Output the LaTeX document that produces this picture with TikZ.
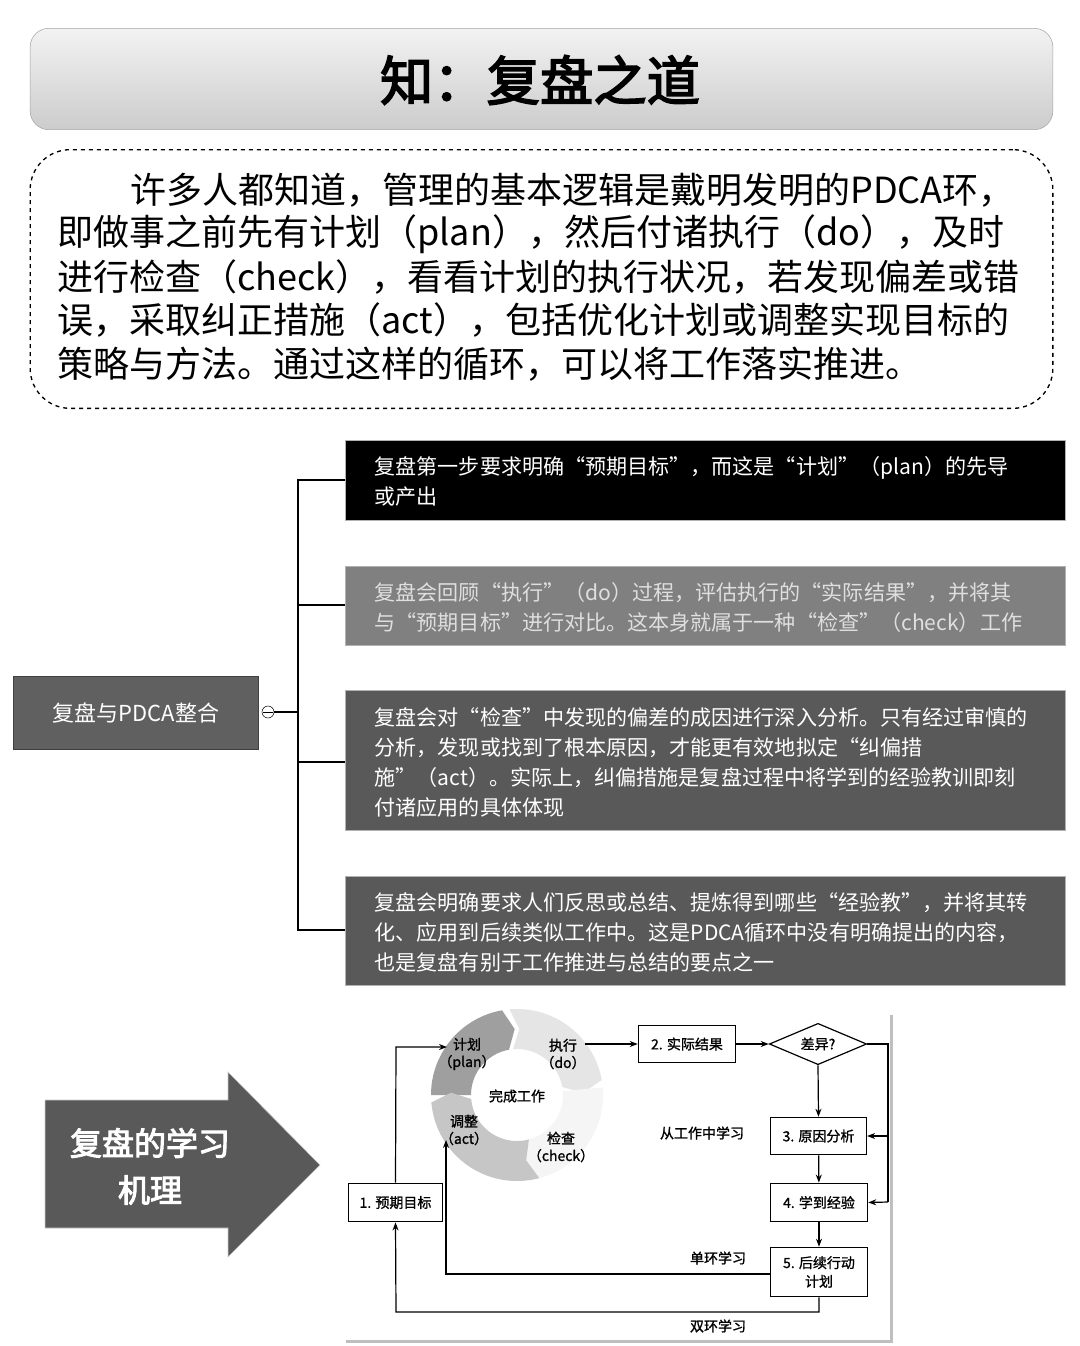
\documentclass[tikz,border=0pt]{standalone}
\usepackage{fontspec}
\setmainfont{Noto Sans CJK SC}
\newfontfamily\cjkb[FakeBold=3]{Noto Sans CJK SC}
\newfontfamily\cjkm[FakeBold=1.2]{Noto Sans CJK SC}
\usetikzlibrary{shapes.geometric,arrows.meta,shadows,calc}
\begin{document}
\begin{tikzpicture}[x=0.75pt,y=-0.75pt,
  sbox/.style={draw=gray!60,line width=0.6pt,minimum width=540pt,anchor=north west,inner sep=0pt},
  btext/.style={anchor=north west,align=left,font=\fontsize{15.8}{22.5}\selectfont,text width=530pt},
  dbox/.style={draw,line width=0.9pt,fill=white,font=\cjkm\fontsize{10.5}{14}\selectfont,inner sep=2pt},
  arr/.style={-{Stealth[length=6pt]},line width=0.9pt},
  lab/.style={font=\cjkm\fontsize{10.5}{13}\selectfont,align=center}]
\useasboundingbox (0,0) rectangle (1080,1346);
\fill[white] (0,0) rectangle (1080,1346);
% title
\node[draw=gray!70,rounded corners=14pt,top color=gray!10,bottom color=gray!40,minimum width=767pt,minimum height=76pt] (title) at (541.5,79) {};
\node[font=\cjkb\fontsize{40}{40}\selectfont] (tt) at (540,80) {知：复盘之道};
% dashed text box
\node[draw,dashed,line width=1pt,rounded corners=30pt,minimum width=767pt,minimum height=194pt] (para) at (541.5,279) {};
\begin{scope}[every node/.style={anchor=west,font=\fontsize{27}{27}\selectfont,inner sep=0pt}]
\node (l1) at (130,190) {许多人都知道，管理的基本逻辑是戴明发明的PDCA环，};
\node (l2) at (57,234) {即做事之前先有计划（plan），然后付诸执行（do），及时};
\node (l3) at (57,277) {进行检查（check），看看计划的执行状况，若发现偏差或错};
\node (l4) at (57,320) {误，采取纠正措施（act），包括优化计划或调整实现目标的};
\node (l5) at (57,364) {策略与方法。通过这样的循环，可以将工作落实推进。};
\end{scope}
% mind map
\node[fill=gray!75!black,draw=gray!50!black,minimum width=184pt,minimum height=55pt,text=white,font=\fontsize{16.5}{16}\selectfont] (root) at (136,713) {复盘与PDCA整合};
\node[draw,circle,inner sep=0pt,minimum size=9pt,fill=white] (c) at (268,712) {};
\draw (263,712) -- (273,712);
\draw[line width=0.8pt] (c) -- (298,712);
\draw[line width=0.8pt] (345,480) -- (298,480) -- (298,930) -- (345,930);
\draw[line width=0.8pt] (298,605) -- (345,605);
\draw[line width=0.8pt] (298,762) -- (345,762);
\node[sbox,fill=black,minimum height=60pt] (b1) at (345,440) {};
\node[btext,text=white] (t1) at (370,452) {复盘第一步要求明确“预期目标”，而这是“计划”（plan）的先导\\或产出};
\node[sbox,fill=gray,minimum height=59pt] (b2) at (345,566) {};
\node[btext,text=gray!25] (t2) at (370,578) {复盘会回顾“执行”（do）过程，评估执行的“实际结果”，并将其\\与“预期目标”进行对比。这本身就属于一种“检查”（check）工作};
\node[sbox,fill=gray!70!black,minimum height=105pt] (b3) at (345,690) {};
\node[btext,text=white] (t3) at (370,703) {复盘会对“检查”中发现的偏差的成因进行深入分析。只有经过审慎的\\分析，发现或找到了根本原因，才能更有效地拟定“纠偏措\\施”（act）。实际上，纠偏措施是复盘过程中将学到的经验教训即刻\\付诸应用的具体体现};
\node[sbox,fill=gray!70!black,minimum height=82pt] (b4) at (345,876) {};
\node[btext,text=white] (t4) at (370,888) {复盘会明确要求人们反思或总结、提炼得到哪些“经验教”，并将其转\\化、应用到后续类似工作中。这是PDCA循环中没有明确提出的内容，\\也是复盘有别于工作推进与总结的要点之一};
% big arrow
\draw[fill=gray!70!black,draw=gray!40] (45,1100) -- (228,1100) -- (228,1072) -- (320,1165) -- (228,1257) -- (228,1228) -- (45,1228) -- cycle;
\node[text=white,font=\cjkb\fontsize{24}{24}\selectfont] (m1) at (150,1143) {复盘的学习};
\node[text=white,font=\cjkb\fontsize{24}{24}\selectfont] (m2) at (150,1190) {机理};
% diagram panel
\fill[gray!50] (346,1015) rectangle (893,1343);
\fill[white] (343,1012) rectangle (890,1340);
% ring
\begin{scope}[shift={(517,1095)},x=0.75pt,y=0.75pt]
\def\R{86}\def\r{46}
\fill[gray!75] (100:\R) arc[start angle=100,end angle=180,radius=\R] -- (180:\r) arc[start angle=180,end angle=100,radius=\r] -- (92:66) -- cycle;
\fill[gray!20] (10:\R) arc[start angle=10,end angle=95,radius=\R] -- (88:66) -- (95:\r) arc[start angle=95,end angle=10,radius=\r] -- (2:66) -- cycle;
\fill[gray!8] (-80:\R) arc[start angle=-80,end angle=5,radius=\R] -- (5:\r) arc[start angle=5,end angle=-80,radius=\r] -- (-88:66) -- cycle;
\fill[gray!45] (185:\R) arc[start angle=185,end angle=285,radius=\R] -- (278:66) -- (285:\r) arc[start angle=285,end angle=185,radius=\r] -- (178:66) -- cycle;
\end{scope}
\node[lab] (plan) at (467,1054) {计划\\（plan）};
\node[lab] (do) at (563,1054) {执行\\（do）};
\node[lab] (wc) at (517,1096) {完成工作};
\node[lab] (act) at (464,1130) {调整\\（act）};
\node[lab] (chk) at (561,1147) {检查\\（check）};
% boxes
\node[dbox,minimum width=70pt,minimum height=29pt] (n1) at (395.5,1202.5) {1. 预期目标};
\node[dbox,minimum width=73pt,minimum height=28pt] (n2) at (687,1044) {2. 实际结果};
\node[dbox,diamond,aspect=2.3,minimum width=73pt,minimum height=31pt,inner sep=0pt] (d) at (818,1044) {差异?};
\node[dbox,minimum width=72pt,minimum height=28pt] (n3) at (818.5,1136) {3. 原因分析};
\node[dbox,minimum width=73pt,minimum height=29pt] (n4) at (819,1202.5) {4. 学到经验};
\node[dbox,minimum width=73pt,minimum height=37pt,align=center] (n5) at (819,1272) {5. 后续行动\\计划};
\draw[arr] (n1.north) -- (396,1047) -- (447,1047);
\draw[arr] (585,1044) -- (n2.west);
\draw[arr] (n2.east) -- (d.west);
\draw[arr] (d.south) -- (n3.north);
\draw[arr] (n3) -- (n4);
\draw[arr] (n4) -- (n5);
\draw[line width=0.9pt] (d.east) -- (888,1044) -- (888,1202);
\draw[arr] (888,1136) -- (n3.east);
\draw[arr] (888,1202) -- (n4.east);
\draw[arr] (n5.west |- 0,1274) -- (446,1274) -- (446,1140);
\draw[arr] (n5.south) -- (819,1312) -- (396,1312) -- (n1.south);
\node[lab] (t6) at (702,1133) {从工作中学习};
\node[lab] (t7) at (718,1258) {单环学习};
\node[lab] (t8) at (718,1326) {双环学习};
\end{tikzpicture}
\end{document}
